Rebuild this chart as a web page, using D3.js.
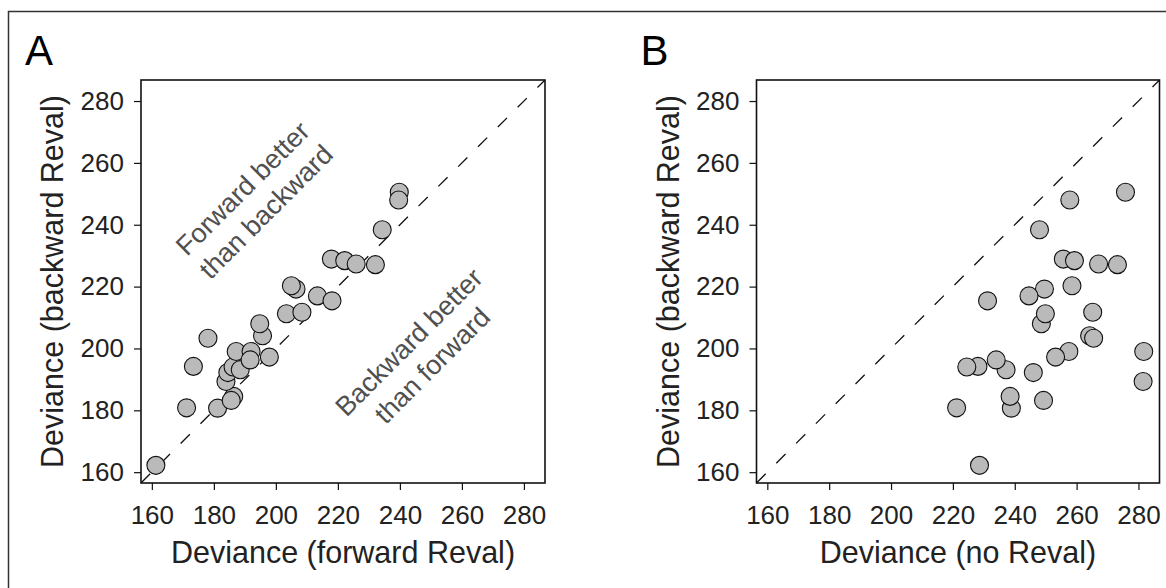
<!DOCTYPE html>
<html>
<head>
<meta charset="utf-8">
<script src="https://cdn.jsdelivr.net/npm/d3@7"></script>
<style>
  body { margin: 0; background: #fff; }
  svg { display: block; font-family: "Liberation Sans", Arial, Helvetica, sans-serif; }
</style>
</head>
<body>
<svg width="1166" height="588"></svg>
<script>
// backward Reval deviance (shared y values for both panels)
var backward = [162.2, 180.8, 180.7, 184.5, 183.2, 194.2, 189.3, 192.2, 194.0, 193.1,
  199.0, 199.0, 196.3, 197.2, 204.1, 208.0, 211.2, 211.7, 219.2, 220.3,
  217.0, 215.4, 228.9, 228.4, 227.3, 227.1, 238.4, 250.5, 248.0, 203.3];
// forward Reval deviance (panel A x)
var forward = [161.3, 171.2, 181.2, 186.4, 185.6, 173.4, 183.9, 184.5, 186.2, 188.5,
  187.2, 192.0, 191.7, 197.9, 195.7, 194.8, 203.4, 208.4, 206.5, 205.0,
  213.4, 218.1, 217.9, 222.2, 225.9, 232.1, 234.3, 239.8, 239.6, 178.1];
// no Reval deviance (panel B x)
var noReval = [228.6, 221.2, 238.9, 238.5, 249.3, 228.1, 281.5, 246.0, 224.5, 237.2,
  257.5, 281.7, 234.0, 253.2, 264.2, 248.6, 249.9, 265.2, 249.6, 258.5,
  244.6, 231.2, 255.7, 259.3, 267.1, 273.2, 248.0, 275.8, 257.8, 265.5];

var ticks = [160, 180, 200, 220, 240, 260, 280];
var domain = [156.5, 286.8];

var svg = d3.select("svg");

// outer frame
svg.append("rect")
  .attr("x", 8.5).attr("y", 11.5)
  .attr("width", 1200).attr("height", 620)
  .attr("fill", "none")
  .attr("stroke", "#333")
  .attr("stroke-width", 1.5);

var yScale = d3.scaleLinear().domain(domain).range([483, 80]);

function panel(letter, xs, left, right, xTitle, notes) {
  var xScale = d3.scaleLinear().domain(domain).range([left, right]);
  var top = 80, bottom = 483;

  var clipId = "clip" + letter;
  svg.append("clipPath").attr("id", clipId)
    .append("rect")
    .attr("x", left).attr("y", top)
    .attr("width", right - left).attr("height", bottom - top);

  // identity line
  svg.append("line")
    .attr("clip-path", "url(#" + clipId + ")")
    .attr("x1", xScale(domain[0])).attr("y1", yScale(domain[0]))
    .attr("x2", xScale(domain[1])).attr("y2", yScale(domain[1]))
    .attr("stroke", "#111")
    .attr("stroke-width", 1.3)
    .attr("stroke-dasharray", "13,15");

  // annotations
  notes.forEach(function (n) {
    var g = svg.append("g")
      .attr("transform", "translate(" + xScale(n.x) + "," + yScale(n.y) + ")rotate(-45)");
    n.lines.forEach(function (t, i) {
      g.append("text")
        .attr("x", 0)
        .attr("y", (i - (n.lines.length - 1) / 2) * 33)
        .attr("dy", "0.35em")
        .attr("text-anchor", "middle")
        .style("font-size", "27px")
        .style("fill", "#505050")
        .text(t);
    });
  });

  // points
  svg.append("g")
    .selectAll("circle")
    .data(xs.map(function (d, i) { return [d, backward[i]]; }))
    .enter()
    .append("circle")
    .attr("cx", function (d) { return xScale(d[0]); })
    .attr("cy", function (d) { return yScale(d[1]); })
    .attr("r", 9)
    .attr("fill", "#bababa")
    .attr("stroke", "#111")
    .attr("stroke-width", 1.1);

  // box
  svg.append("rect")
    .attr("x", left).attr("y", top)
    .attr("width", right - left).attr("height", bottom - top)
    .attr("fill", "none")
    .attr("stroke", "#111")
    .attr("stroke-width", 1.6);

  var xAxis = svg.append("g")
    .attr("transform", "translate(0," + bottom + ")")
    .call(d3.axisBottom(xScale).tickValues(ticks).tickSize(7).tickPadding(16));
  var yAxis = svg.append("g")
    .attr("transform", "translate(" + left + ",0)")
    .call(d3.axisLeft(yScale).tickValues(ticks).tickSize(7).tickPadding(10));

  [xAxis, yAxis].forEach(function (a) {
    a.select(".domain").remove();
    a.selectAll(".tick line").attr("stroke", "#111").attr("stroke-width", 1.2);
    a.selectAll(".tick text")
      .style("font-size", "26px")
      .style("font-family", "'Liberation Sans', Arial, sans-serif")
      .attr("fill", "#222");
  });

  // x title
  svg.append("text")
    .attr("x", (left + right) / 2)
    .attr("y", 563)
    .attr("text-anchor", "middle")
    .style("font-size", "30.5px")
    .style("fill", "#222")
    .text(xTitle);

  // y title
  svg.append("text")
    .attr("transform", "translate(" + (left - 78) + "," + (top + bottom) / 2 + ")rotate(-90)")
    .attr("text-anchor", "middle")
    .style("font-size", "30.5px")
    .style("fill", "#222")
    .text("Deviance (backward Reval)");

  // panel letter
  svg.append("text")
    .attr("x", left - 116)
    .attr("y", 65)
    .style("font-size", "42px")
    .style("fill", "#000")
    .text(letter);
}

panel("A", forward, 141, 545, "Deviance (forward Reval)", [
  { x: 193.0, y: 248.0, lines: ["Forward better", "than backward"] },
  { x: 246.6, y: 198.3, lines: ["Backward better", "than forward"] }
]);
panel("B", noReval, 756.5, 1159.5, "Deviance (no Reval)", []);
</script>
</body>
</html>
